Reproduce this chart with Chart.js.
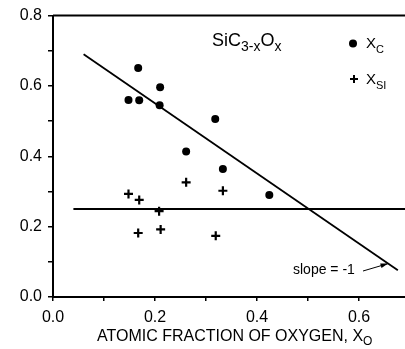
<!DOCTYPE html>
<html>
<head>
<meta charset="utf-8">
<script src="https://cdn.jsdelivr.net/npm/chart.js@4.4.1/dist/chart.umd.min.js"></script>
<style>
  html, body { margin: 0; padding: 0; background: #fff; overflow: hidden; }
  #wrap { position: relative; width: 405px; height: 349px; overflow: hidden; }
  #c { display: block; }
</style>
</head>
<body>
<div id="wrap"><canvas id="c"></canvas></div>
<script>
// carbon fraction (dots)
const xcX = [0.148, 0.167, 0.169, 0.210, 0.209, 0.318, 0.261, 0.333, 0.424];
const xcY = [0.560, 0.651, 0.559, 0.596, 0.545, 0.506, 0.414, 0.364, 0.290];
// silicon fraction (crosses)
const xsiX = [0.148, 0.169, 0.261, 0.333, 0.208, 0.167, 0.211, 0.319];
const xsiY = [0.293, 0.276, 0.326, 0.302, 0.244, 0.182, 0.192, 0.174];
// reference lines
const flatX = [0.04, 0.69];
const flatY = [0.25, 0.25];
const slopeX = [0.06, 0.676];
const slopeY = [0.69, 0.076];
const xTicks = [0.0, 0.2, 0.4, 0.6];
const yTicks = [0.0, 0.2, 0.4, 0.6, 0.8];

const pts = (xs, ys) => xs.map((x, i) => ({ x: x, y: ys[i] }));
const FONT = "'Liberation Sans', Arial, sans-serif";

// text with a subscript part
function subText(ctx, x, y, parts, size, subSize, drop) {
  parts.forEach(p => {
    const sub = p[1];
    ctx.font = (sub ? subSize : size) + "px " + FONT;
    ctx.fillText(p[0], x, sub ? y + drop : y);
    x += ctx.measureText(p[0]).width;
  });
}

const extras = {
  id: "extras",
  afterDraw(chart) {
    const ctx = chart.ctx;
    const a = chart.chartArea;
    const sx = chart.scales.x, sy = chart.scales.y;
    ctx.save();
    ctx.fillStyle = "#000";
    ctx.strokeStyle = "#000";
    ctx.textBaseline = "alphabetic";
    ctx.textAlign = "left";

    // top frame
    ctx.lineWidth = 2;
    ctx.beginPath();
    ctx.moveTo(a.left, a.top);
    ctx.lineTo(a.right, a.top);
    ctx.stroke();

    // formula
    subText(ctx, 212, 46, [["SiC", 0], ["3-x", 1], ["O", 0], ["x", 1]], 18, 14, 5);

    // legend
    ctx.beginPath();
    ctx.arc(353, 43.5, 4, 0, Math.PI * 2);
    ctx.fill();
    subText(ctx, 366, 48, [["X", 0], ["C", 1]], 15, 11, 5);
    ctx.lineWidth = 2;
    ctx.beginPath();
    ctx.moveTo(350, 79); ctx.lineTo(358, 79);
    ctx.moveTo(354, 75); ctx.lineTo(354, 83);
    ctx.stroke();
    subText(ctx, 366, 84, [["X", 0], ["SI", 1]], 15, 11, 5);

    // slope label and arrow
    ctx.font = "14px " + FONT;
    ctx.fillText("slope = -1", 293, 274);
    const tx = sx.getPixelForValue(0.657), ty = sy.getPixelForValue(0.095);
    ctx.lineWidth = 1;
    ctx.beginPath();
    ctx.moveTo(363, 271);
    ctx.lineTo(tx, ty);
    ctx.stroke();
    const ang = Math.atan2(ty - 271, tx - 363);
    ctx.beginPath();
    ctx.moveTo(tx, ty);
    ctx.lineTo(tx - 8 * Math.cos(ang - 0.3), ty - 8 * Math.sin(ang - 0.3));
    ctx.lineTo(tx - 8 * Math.cos(ang + 0.3), ty - 8 * Math.sin(ang + 0.3));
    ctx.closePath();
    ctx.fill();

    // x axis title
    subText(ctx, 97, 341, [["ATOMIC FRACTION OF OXYGEN, X", 0], ["O", 1]], 16, 12, 4);
    ctx.restore();
  }
};

new Chart(document.getElementById("c"), {
  type: "scatter",
  data: {
    datasets: [
      { label: "X_C", data: pts(xcX, xcY), pointStyle: "circle", pointRadius: 4,
        backgroundColor: "#000", borderColor: "#000", borderWidth: 0 },
      { label: "X_Si", data: pts(xsiX, xsiY), pointStyle: "cross", pointRadius: 4.5,
        borderColor: "#000", borderWidth: 2.2 },
      { label: "flat", data: pts(flatX, flatY), showLine: true, pointRadius: 0,
        borderColor: "#000", borderWidth: 2 },
      { label: "slope", data: pts(slopeX, slopeY), showLine: true, pointRadius: 0,
        borderColor: "#000", borderWidth: 1.8 }
    ]
  },
  options: {
    responsive: true,
    maintainAspectRatio: false,
    animation: false,
    layout: { autoPadding: false, padding: { top: 14, right: 0, left: 0, bottom: 0 } },
    plugins: { legend: { display: false }, tooltip: { enabled: false } },
    scales: {
      x: {
        type: "linear", min: 0, max: 0.69,
        afterFit(s) { s.height = 52; s.paddingRight = 0; s.paddingLeft = 0; },
        border: { color: "#000", width: 2 },
        grid: { drawOnChartArea: false, drawTicks: true, tickLength: 4, color: "#000", lineWidth: 1.5 },
        ticks: {
          stepSize: 0.1, includeBounds: false, padding: 7, color: "#000", maxRotation: 0,
          font: { family: FONT, size: 16 },
          callback: v => xTicks.some(t => Math.abs(t - v) < 1e-6) ? v.toFixed(1) : ""
        }
      },
      y: {
        type: "linear", min: 0, max: 0.8,
        afterFit(s) { s.width = 53; },
        border: { color: "#000", width: 2 },
        grid: { drawOnChartArea: false, drawTicks: true, tickLength: 5, color: "#000", lineWidth: 1.5 },
        ticks: {
          stepSize: 0.1, padding: 6, color: "#000",
          font: { family: FONT, size: 16 },
          callback: v => yTicks.some(t => Math.abs(t - v) < 1e-6) ? v.toFixed(1) : ""
        }
      }
    }
  },
  plugins: [extras]
});
</script>
</body>
</html>
